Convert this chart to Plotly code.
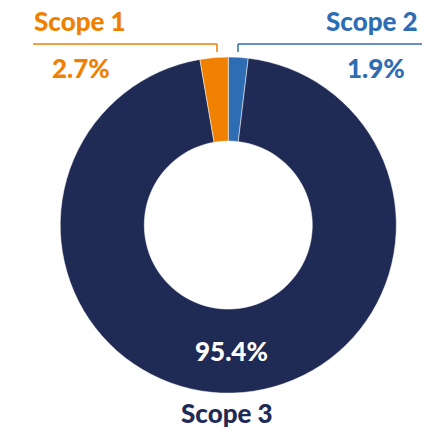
import plotly.graph_objects as go

# DATA
labels = ["Scope 2", "Scope 3", "Scope 1"]
values = [1.9, 95.4, 2.7]
colors = ["#2E6DB4", "#1F2A55", "#F08100"]
slice_text = ["", "95.4%", ""]

W, H = 439, 432


def px(x):
    return x / W


def py(y):
    return 1 - y / H


fig = go.Figure(
    go.Pie(
        labels=labels,
        values=values,
        text=slice_text,
        textinfo="text",
        textposition="inside",
        insidetextorientation="horizontal",
        textfont={"family": "Lato", "size": 26, "color": "white", "weight": 900},
        marker={"colors": colors, "line": {"color": "white", "width": 0.5}},
        hole=0.5,
        sort=False,
        direction="clockwise",
        rotation=0,
        domain={"x": [0.13, 0.91], "y": [0.09, 0.868]},
        showlegend=False,
    )
)

# leader lines
fig.add_shape(type="line", xref="paper", yref="paper",
              x0=px(33), y0=py(44), x1=px(217), y1=py(44),
              line={"color": "#F08100", "width": 1.5})
fig.add_shape(type="line", xref="paper", yref="paper",
              x0=px(217), y0=py(44), x1=px(217), y1=py(52),
              line={"color": "#F08100", "width": 1.5})
fig.add_shape(type="line", xref="paper", yref="paper",
              x0=px(238), y0=py(44), x1=px(422), y1=py(44),
              line={"color": "#2E6DB4", "width": 1.5})
fig.add_shape(type="line", xref="paper", yref="paper",
              x0=px(238), y0=py(44), x1=px(238), y1=py(52),
              line={"color": "#2E6DB4", "width": 1.5})


def label(x, y, txt, color):
    fig.add_annotation(x=px(x), y=py(y), xref="paper", yref="paper", text=txt,
                       showarrow=False, xanchor="center", yanchor="middle",
                       font={"family": "Lato", "size": 26, "color": color, "weight": 900})


label(80, 21, "Scope 1", "#F08100")
label(81, 68, "2.7%", "#F08100")
label(372, 21, "Scope 2", "#2E6DB4")
label(376, 68, "1.9%", "#2E6DB4")
label(227, 413, "Scope 3", "#1F2A55")

fig.update_layout(
    width=W, height=H,
    margin={"l": 0, "r": 0, "t": 0, "b": 0},
    paper_bgcolor="white",
    plot_bgcolor="white",
)

fig.write_html("out.html", config={"displayModeBar": False},
               post_script="document.body.style.margin='0';")
